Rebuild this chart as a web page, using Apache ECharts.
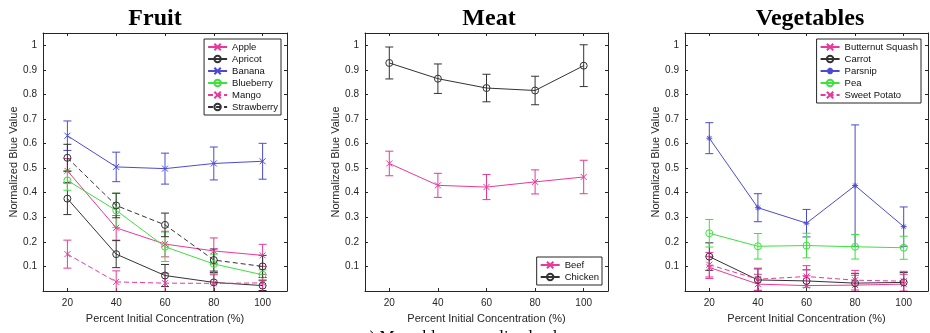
<!DOCTYPE html>
<html>
<head>
<meta charset="utf-8">
<script src="https://cdn.jsdelivr.net/npm/echarts@6/dist/echarts.min.js"></script>
<style>html,body{margin:0;padding:0;background:#fff}#c{width:930px;height:333px}</style>
</head>
<body>
<div id="c"></div>
<script>
// ---- data ----
const concentrations = [20, 40, 60, 80, 100];
const xTicks = [20, 40, 60, 80, 100];
const yTicks = [0.1, 0.2, 0.3, 0.4, 0.5, 0.6, 0.7, 0.8, 0.9, 1];
const panelTitles = ['Fruit', 'Meat', 'Vegetables'];

// Fruit
const appleMean      = [0.489, 0.257, 0.191, 0.163, 0.145];
const appleErr       = [0.050, 0.050, 0.052, 0.053, 0.045];
const apricotMean    = [0.376, 0.150, 0.063, 0.035, 0.022];
const apricotErr     = [0.065, 0.055, 0.045, 0.040, 0.020];
const bananaMean     = [0.632, 0.505, 0.498, 0.519, 0.528];
const bananaErr      = [0.060, 0.060, 0.063, 0.067, 0.073];
const blueberryMean  = [0.450, 0.328, 0.180, 0.110, 0.066];
const blueberryErr   = [0.040, 0.070, 0.060, 0.040, 0.020];
const mangoMean      = [0.150, 0.037, 0.032, 0.031, 0.033];
const mangoErr       = [0.057, 0.045, 0.040, 0.035, 0.035];
const strawberryMean = [0.542, 0.348, 0.269, 0.126, 0.100];
const strawberryErr  = [0.055, 0.050, 0.048, 0.045, 0.045];

// Meat
const beefMean    = [0.519, 0.430, 0.423, 0.444, 0.464];
const beefErr     = [0.050, 0.049, 0.051, 0.049, 0.068];
const chickenMean = [0.928, 0.864, 0.826, 0.816, 0.917];
const chickenErr  = [0.065, 0.060, 0.056, 0.058, 0.085];

// Vegetables
const butternutMean   = [0.096, 0.028, 0.022, 0.024, 0.028];
const butternutErr    = [0.045, 0.040, 0.040, 0.040, 0.040];
const carrotMean      = [0.140, 0.045, 0.041, 0.032, 0.035];
const carrotErr       = [0.056, 0.045, 0.045, 0.040, 0.040];
const parsnipMean     = [0.622, 0.339, 0.276, 0.429, 0.262];
const parsnipErr      = [0.063, 0.057, 0.056, 0.247, 0.080];
const peaMean         = [0.235, 0.182, 0.185, 0.180, 0.176];
const peaErr          = [0.056, 0.052, 0.050, 0.050, 0.047];
const sweetPotatoMean = [0.107, 0.048, 0.059, 0.044, 0.040];
const sweetPotatoErr  = [0.050, 0.045, 0.044, 0.040, 0.040];

// ---- styles ----
const PINK = '#e8399a', BLACK = '#333333', BLUE = '#4b4bd2', GREEN = '#3fe03f';
const XSYM = 'path://M0,0L10,10M10,0L0,10';
const STAR = 'path://M5,0L5,10M0,5L10,5M1.5,1.5L8.5,8.5M8.5,1.5L1.5,8.5';

const panels = [
  { grid: {left: 43, top: 33, width: 244, height: 258},
    legend: {right: 649, top: 39},
    series: [
      {name: 'Apple', mean: appleMean, err: appleErr, color: PINK, sym: XSYM, dash: false},
      {name: 'Apricot', mean: apricotMean, err: apricotErr, color: BLACK, sym: 'circle', dash: false},
      {name: 'Banana', mean: bananaMean, err: bananaErr, color: BLUE, sym: XSYM, dash: false},
      {name: 'Blueberry', mean: blueberryMean, err: blueberryErr, color: GREEN, sym: 'circle', dash: false},
      {name: 'Mango', mean: mangoMean, err: mangoErr, color: PINK, sym: XSYM, dash: true},
      {name: 'Strawberry', mean: strawberryMean, err: strawberryErr, color: BLACK, sym: 'circle', dash: true}
    ]},
  { grid: {left: 365, top: 33, width: 243, height: 258},
    legend: {right: 328, top: 257},
    series: [
      {name: 'Beef', mean: beefMean, err: beefErr, color: PINK, sym: XSYM, dash: false},
      {name: 'Chicken', mean: chickenMean, err: chickenErr, color: BLACK, sym: 'circle', dash: false}
    ]},
  { grid: {left: 685, top: 33, width: 243, height: 258},
    legend: {right: 9, top: 39},
    series: [
      {name: 'Butternut Squash', mean: butternutMean, err: butternutErr, color: PINK, sym: XSYM, dash: false},
      {name: 'Carrot', mean: carrotMean, err: carrotErr, color: BLACK, sym: 'circle', dash: false},
      {name: 'Parsnip', mean: parsnipMean, err: parsnipErr, color: BLUE, sym: STAR, dash: false},
      {name: 'Pea', mean: peaMean, err: peaErr, color: GREEN, sym: 'circle', dash: false},
      {name: 'Sweet Potato', mean: sweetPotatoMean, err: sweetPotatoErr, color: PINK, sym: XSYM, dash: true}
    ]}
];

const AX = '#262626';
const FONT = 'Liberation Sans, Arial, sans-serif';

const grids = [], xAxes = [], yAxes = [], series = [], legends = [], titles = [];
const titleCenters = [150, 484, 805];

panels.forEach((p, gi) => {
  grids.push(Object.assign({containLabel: false}, p.grid));
  titles.push({
    text: panelTitles[gi], left: titleCenters[gi], top: 2, textAlign: 'center',
    textStyle: {fontFamily: 'Liberation Serif, Times New Roman, serif', fontWeight: 'bold', fontSize: 24, color: '#000'}
  });
  const xBase = {
    type: 'value', gridIndex: gi, min: 10, max: 110,
    axisLine: {show: true, onZero: false, lineStyle: {color: AX, width: 1}},
    splitLine: {show: false}
  };
  xAxes.push(Object.assign({}, xBase, {
    position: 'bottom',
    name: 'Percent Initial Concentration (%)', nameLocation: 'middle', nameGap: 22,
    nameTextStyle: {fontFamily: FONT, fontSize: 11, color: AX},
    axisTick: {show: true, inside: true, length: 3, customValues: xTicks, lineStyle: {color: AX}},
    axisLabel: {show: true, customValues: xTicks, margin: 7, fontFamily: FONT, fontSize: 10, color: AX}
  }));
  xAxes.push(Object.assign({}, xBase, {
    position: 'top',
    axisTick: {show: true, inside: true, length: 3, customValues: xTicks, lineStyle: {color: AX}},
    axisLabel: {show: false}
  }));
  const yBase = {
    type: 'value', gridIndex: gi, min: 0, max: 1.05,
    axisLine: {show: true, onZero: false, lineStyle: {color: AX, width: 1}},
    splitLine: {show: false}
  };
  yAxes.push(Object.assign({}, yBase, {
    position: 'left',
    name: 'Normalized Blue Value', nameLocation: 'middle', nameGap: 22,
    nameTextStyle: {fontFamily: FONT, fontSize: 11, color: AX},
    axisTick: {show: true, inside: true, length: 3, customValues: yTicks, lineStyle: {color: AX}},
    axisLabel: {show: true, customValues: yTicks, margin: 6, fontFamily: FONT, fontSize: 10, color: AX}
  }));
  yAxes.push(Object.assign({}, yBase, {
    position: 'right',
    axisTick: {show: true, inside: true, length: 3, customValues: yTicks, lineStyle: {color: AX}},
    axisLabel: {show: false}
  }));

  const names = [];
  p.series.forEach(s => {
    names.push(s.name);
    const isCircle = s.sym === 'circle';
    series.push({
      name: s.name, type: 'line', xAxisIndex: gi * 2, yAxisIndex: gi * 2,
      data: concentrations.map((c, i) => [c, s.mean[i]]),
      symbol: s.sym, symbolSize: isCircle ? 7 : 6, showSymbol: true,
      lineStyle: {color: s.color, width: 1, type: s.dash ? [5, 3] : 'solid'},
      itemStyle: isCircle
        ? {color: 'rgba(255,255,255,0)', borderColor: s.color, borderWidth: 1}
        : {color: s.color, borderColor: s.color, borderWidth: 1},
      emphasis: {disabled: true}, animation: false, z: 3
    });
    series.push({
      type: 'custom', xAxisIndex: gi * 2, yAxisIndex: gi * 2,
      data: concentrations.map((c, i) => [c, s.mean[i] - s.err[i], s.mean[i] + s.err[i]]),
      renderItem: function (params, api) {
        const x = api.value(0);
        const lo = api.coord([x, api.value(1)]);
        const hi = api.coord([x, api.value(2)]);
        const w = 4;
        const st = {stroke: s.color, lineWidth: 1};
        return {
          type: 'group',
          children: [
            {type: 'line', shape: {x1: lo[0], y1: lo[1], x2: hi[0], y2: hi[1]}, style: st},
            {type: 'line', shape: {x1: lo[0] - w, y1: lo[1], x2: lo[0] + w, y2: lo[1]}, style: st},
            {type: 'line', shape: {x1: hi[0] - w, y1: hi[1], x2: hi[0] + w, y2: hi[1]}, style: st}
          ]
        };
      },
      clip: true, silent: true, animation: false, z: 2
    });
  });
  legends.push({
    orient: 'vertical', right: p.legend.right, top: p.legend.top,
    data: names, itemWidth: 19, itemHeight: 8, itemGap: 0,
    padding: [2, 3, 2, 3], borderColor: AX, borderWidth: 1, backgroundColor: '#fff',
    selectedMode: false,
    textStyle: {fontFamily: FONT, fontSize: 9.5, color: '#111', lineHeight: 12},
    z: 10
  });
});

const chart = echarts.init(document.getElementById('c'), null, {renderer: 'canvas'});
chart.setOption({
  animation: false,
  backgroundColor: '#fff',
  title: titles,
  grid: grids,
  xAxis: xAxes,
  yAxis: yAxes,
  legend: legends,
  series: series,
  graphic: [{
    type: 'text', left: 362, top: 329,
    style: {text: 'c) Mean blue normalized values', font: '17px "Liberation Serif", serif', fill: '#000'}
  }]
});
</script>
</body>
</html>
